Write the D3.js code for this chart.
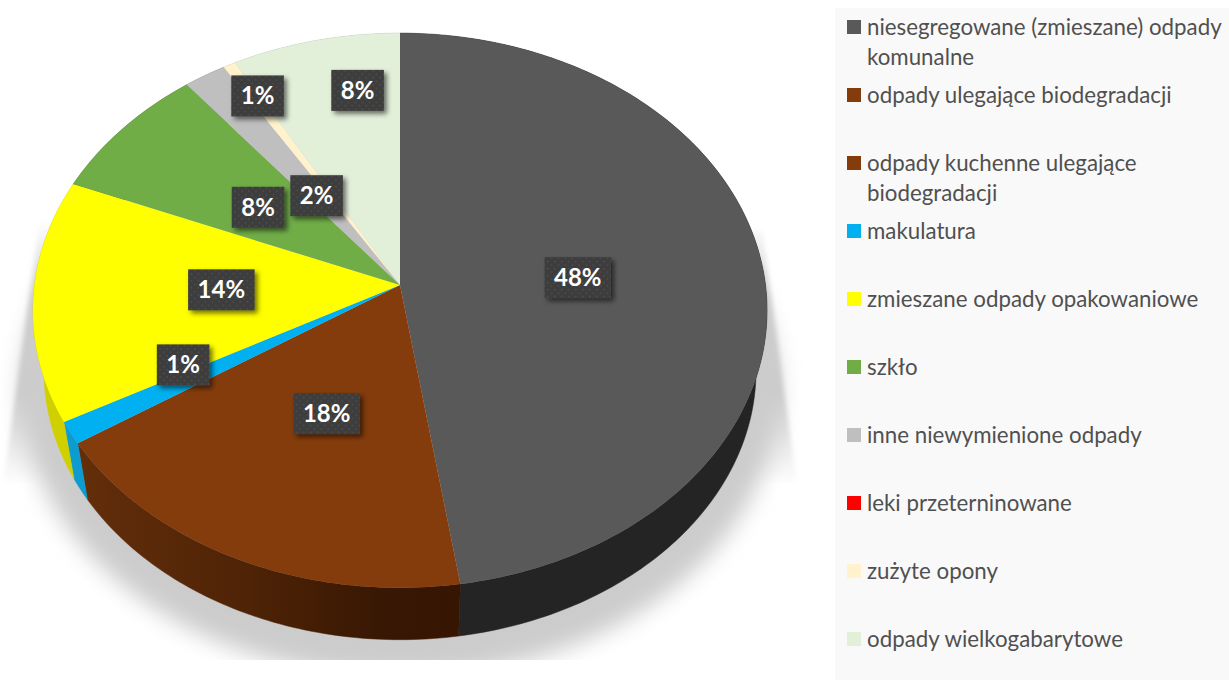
<!DOCTYPE html>
<html>
<head>
<meta charset="utf-8">
<script src="https://cdnjs.cloudflare.com/ajax/libs/d3/7.8.5/d3.min.js"></script>
<style>
  html, body { margin: 0; padding: 0; background: #fff; }
  svg { display: block; font-family: Lato, "Open Sans", sans-serif; }
</style>
</head>
<body>
<div id="chart"></div>
<script>
// values
const categories = [
  ["niesegregowane (zmieszane) odpady", "komunalne"],
  ["odpady ulegające biodegradacji"],
  ["odpady kuchenne ulegające", "biodegradacji"],
  ["makulatura"],
  ["zmieszane odpady opakowaniowe"],
  ["szkło"],
  ["inne niewymienione odpady"],
  ["leki przeterninowane"],
  ["zużyte opony"],
  ["odpady wielkogabarytowe"]
];
const shares = [47.6, 0, 18.2, 1.3, 14.1, 8.05, 2.05, 0, 0.6, 8.1];
const topColors = ["#595959", "#843c0c", "#843c0c", "#00b0f0", "#ffff00", "#70ad47", "#bfbfbf", "#ff0000", "#fff2cc", "#e2efd9"];
const sideColors = ["#242424", "#4a2106", "url(#brownSide)", "#0d9bd0", "#d0d000", "#4a7a2e", "#888888", "#aa0000", "#d0c49c", "#b4c2aa"];
// manual label placement, offset from the default spot inside each slice
const labelNudge = [[-40, 5], [0, 0], [21, -30], [-23, -7], [41, -4], [28, 18], [37, 40], [0, 0], [-37, -53], [10, -43]];

const width = 1229, height = 680;

// tilted pie: unit disc seen in perspective
const apex = {x: 400, y: 285};
const persp = 0.0918, radiusX = 365.5, radiusY = 275;
function project(angle, r, scale, drop) {
  const u = r * Math.sin(angle), v = r * Math.cos(angle);
  const w = 1 + persp * v;
  return [apex.x + scale * radiusX * u / w, apex.y + drop - scale * radiusY * v / w];
}
function rim(a0, a1, scale, drop) {
  const n = Math.max(2, Math.ceil((a1 - a0) * 60));
  return d3.range(n + 1).map(i => project(a0 + (a1 - a0) * i / n, 1, scale, drop));
}

const line = d3.line();
const arcs = d3.pie().sort(null).value(d => d)(shares);

const svg = d3.select("#chart").append("svg")
  .attr("width", width)
  .attr("height", height);

const defs = svg.append("defs");

let blur = defs.append("filter").attr("id", "softShadow")
  .attr("x", -0.1).attr("y", -0.1).attr("width", 1.2).attr("height", 1.2);
blur.append("feGaussianBlur").attr("stdDeviation", 11);

let blurThin = defs.append("filter").attr("id", "softEdge")
  .attr("x", -0.1).attr("y", -0.1).attr("width", 1.2).attr("height", 1.2);
blurThin.append("feGaussianBlur").attr("stdDeviation", 2.5);

let boxShadow = defs.append("filter").attr("id", "boxShadow")
  .attr("x", -0.3).attr("y", -0.3).attr("width", 1.6).attr("height", 1.6);
boxShadow.append("feDropShadow")
  .attr("dx", 3).attr("dy", 3).attr("stdDeviation", 2.5)
  .attr("flood-color", "#000").attr("flood-opacity", 0.55);

defs.append("clipPath").attr("id", "shadowClip")
  .append("rect").attr("x", 0).attr("y", 0).attr("width", 834).attr("height", 660);

let brownSide = defs.append("linearGradient").attr("id", "brownSide")
  .attr("gradientUnits", "userSpaceOnUse")
  .attr("x1", 78).attr("x2", 460).attr("y1", 0).attr("y2", 0);
brownSide.append("stop").attr("offset", "0%").attr("stop-color", "#632e0a");
brownSide.append("stop").attr("offset", "45%").attr("stop-color", "#4e2306");
brownSide.append("stop").attr("offset", "80%").attr("stop-color", "#381703");
brownSide.append("stop").attr("offset", "100%").attr("stop-color", "#361603");

let fanFade = defs.append("linearGradient").attr("id", "fanFade")
  .attr("gradientUnits", "userSpaceOnUse")
  .attr("x1", 0).attr("x2", 0).attr("y1", 220).attr("y2", 485);
fanFade.append("stop").attr("offset", "0%").attr("stop-color", "#ffffff");
fanFade.append("stop").attr("offset", "30%").attr("stop-color", "#cccccc");
fanFade.append("stop").attr("offset", "65%").attr("stop-color", "#cccccc");
fanFade.append("stop").attr("offset", "100%").attr("stop-color", "#ffffff");

let dots = defs.append("pattern").attr("id", "dots")
  .attr("patternUnits", "userSpaceOnUse")
  .attr("width", 7).attr("height", 7);
dots.append("rect").attr("width", 7).attr("height", 7).attr("fill", "#3d3d3d");
dots.append("circle").attr("cx", 1.5).attr("cy", 1.5).attr("r", 1).attr("fill", "#4c4c4c");
dots.append("circle").attr("cx", 5).attr("cy", 5).attr("r", 1).attr("fill", "#4c4c4c");

// shadow lying under the pie
const shadow = svg.append("g").attr("clip-path", "url(#shadowClip)");
shadow.append("path")
  .attr("d", line([[40, 220], [3, 485], [797, 485], [762, 230]]) + "Z")
  .attr("fill", "url(#fanFade)")
  .attr("filter", "url(#softEdge)");
shadow.append("path")
  .attr("d", line(rim(0, 2 * Math.PI, 1.03, 80)) + "Z")
  .attr("fill", "#cccccc")
  .attr("filter", "url(#softShadow)");

// side wall, the top face covers whatever faces away
svg.append("g").selectAll("path")
  .data(arcs.filter(d => d.value > 0))
  .join("path")
  .attr("d", d => line(rim(d.startAngle, d.endAngle, 1, 0)
    .concat(rim(d.startAngle, d.endAngle, 0.97, 61).reverse())) + "Z")
  .attr("fill", d => sideColors[d.index])
  .attr("stroke", d => sideColors[d.index])
  .attr("stroke-width", 0.5);

// top face
svg.append("g").selectAll("path")
  .data(arcs.filter(d => d.value > 0))
  .join("path")
  .attr("d", d => line([[apex.x, apex.y]].concat(rim(d.startAngle, d.endAngle, 1, 0))) + "Z")
  .attr("fill", d => topColors[d.index]);

// value labels
const labels = svg.append("g").selectAll("g")
  .data(arcs.filter(d => d.value > 0))
  .join("g")
  .attr("transform", d => {
    const p = project((d.startAngle + d.endAngle) / 2, 0.6, 1, 0);
    const n = labelNudge[d.index];
    return "translate(" + (p[0] + n[0]) + "," + (p[1] + n[1]) + ")";
  });
labels.append("rect")
  .attr("fill", "url(#dots)")
  .attr("filter", "url(#boxShadow)");
labels.append("text")
  .attr("text-anchor", "middle")
  .attr("dy", "0.35em")
  .attr("font-size", 24)
  .attr("font-weight", 700)
  .attr("fill", "#ffffff")
  .text(d => Math.round(d.value) + "%");
labels.each(function () {
  const w = d3.select(this).select("text").node().getComputedTextLength() + 19;
  d3.select(this).select("rect")
    .attr("x", -w / 2).attr("y", -20.5).attr("width", w).attr("height", 41);
});

// legend panel
svg.append("rect")
  .attr("x", 835).attr("y", 8)
  .attr("width", width - 835).attr("height", height - 8)
  .attr("fill", "#f9f9f9");

const legendY = d3.scalePoint()
  .domain(d3.range(categories.length))
  .range([27, 639]);

const legend = svg.append("g").selectAll("g")
  .data(categories)
  .join("g")
  .attr("transform", (d, i) => "translate(847," + legendY(i) + ")");
legend.append("rect")
  .attr("y", -7).attr("width", 14).attr("height", 14)
  .attr("fill", (d, i) => topColors[i]);
legend.append("text")
  .attr("font-size", 22.3)
  .attr("fill", "#505050")
  .selectAll("tspan")
  .data(d => d)
  .join("tspan")
  .attr("x", 20)
  .attr("y", (d, i) => i * 30 + 8)
  .text(d => d);
</script>
</body>
</html>
